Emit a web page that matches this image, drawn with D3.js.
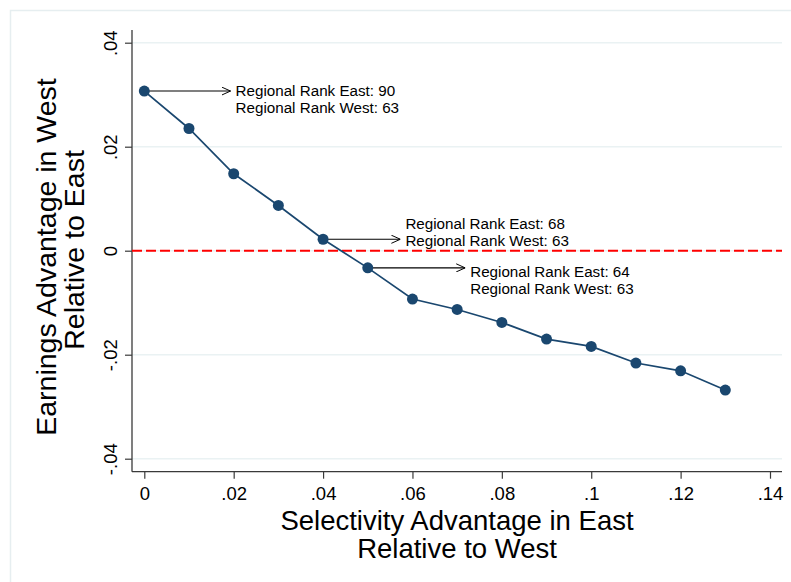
<!DOCTYPE html>
<html>
<head>
<meta charset="utf-8">
<script src="https://cdn.jsdelivr.net/npm/d3@7"></script>
<style>
  html, body { margin: 0; padding: 0; background: #fff; overflow: hidden; }
  svg { display: block; font-family: "Liberation Sans", Arial, Helvetica, sans-serif; }
</style>
</head>
<body>
<div id="chart"></div>
<script>
// selectivity advantage (x) and earnings advantage (y)
var selectivity = [0, 0.01, 0.02, 0.03, 0.04, 0.05, 0.06, 0.07, 0.08, 0.09, 0.10, 0.11, 0.12, 0.13];
var earnings = [0.0307, 0.0235, 0.0148, 0.0087, 0.0022, -0.0033, -0.0093, -0.0113, -0.0138, -0.0170, -0.0184, -0.0216, -0.0231, -0.0268];

var xTicks = [0, 0.02, 0.04, 0.06, 0.08, 0.10, 0.12, 0.14];
var xTickLabels = ['0', '.02', '.04', '.06', '.08', '.1', '.12', '.14'];
var yTicks = [-0.04, -0.02, 0, 0.02, 0.04];
var yTickLabels = ['-.04', '-.02', '0', '.02', '.04'];

// annotations: which point the arrow starts from, where the arrow ends, where the label sits
var notePoint = [0, 4, 5];
var noteArrowEnd = [0.0193, 0.0573, 0.0718];
var noteLabelY = [0.0297, 0.0042, -0.0051];
var noteEast = [90, 68, 64];
var noteWest = [63, 63, 63];

var xTitle = ['Selectivity Advantage in East', 'Relative to West'];
var yTitle = ['Earnings Advantage in West', 'Relative to East'];

var width = 791, height = 582;
var plot = { left: 132, right: 782, top: 30, bottom: 471.7 };
var navy = '#1a476f';

var svg = d3.select('#chart').append('svg')
    .attr('width', width)
    .attr('height', height);

svg.append('defs').append('marker')
    .attr('id', 'arrowhead')
    .attr('viewBox', '0 0 10 10')
    .attr('refX', 10)
    .attr('refY', 5)
    .attr('markerWidth', 9)
    .attr('markerHeight', 9)
    .attr('markerUnits', 'userSpaceOnUse')
    .attr('orient', 'auto')
    .append('path')
    .attr('d', 'M0,0.5 L10,5 L0,9.5')
    .attr('fill', 'none')
    .attr('stroke', '#000')
    .attr('stroke-width', 1.1);

// graph region outline (runs off the right and bottom edges)
svg.append('rect')
    .attr('x', 10.5)
    .attr('y', 10.5)
    .attr('width', 820)
    .attr('height', 620)
    .attr('fill', '#fff')
    .attr('stroke', '#e6eef0')
    .attr('stroke-width', 1.5);

var x = d3.scaleLinear().domain([0, 0.14]).range([144.3, 770]);
var y = d3.scaleLinear().domain([-0.04, 0.04]).range([458.7, 42.7]);

// grid lines
svg.append('g').selectAll('line')
    .data(yTicks)
    .enter().append('line')
    .attr('x1', plot.left)
    .attr('x2', plot.right)
    .attr('y1', function (d) { return y(d); })
    .attr('y2', function (d) { return y(d); })
    .attr('stroke', '#eaf2f3')
    .attr('stroke-width', 1.6);

// x axis
var xAxis = d3.axisBottom(x)
    .tickValues(xTicks)
    .tickSize(7)
    .tickPadding(8)
    .tickFormat(function (d, i) { return xTickLabels[i]; });
var gx = svg.append('g')
    .attr('transform', 'translate(0,' + plot.bottom + ')')
    .call(xAxis);
gx.select('.domain').remove();
gx.append('line')
    .attr('x1', plot.left)
    .attr('x2', plot.right)
    .attr('stroke', '#3a3a3a')
    .attr('stroke-width', 1.3);
gx.selectAll('.tick line').attr('stroke', '#3a3a3a').attr('stroke-width', 1.2);
gx.selectAll('.tick text')
    .attr('fill', '#000')
    .style('font-size', '18.5px')
    .style('font-family', '"Liberation Sans", Arial, sans-serif');

// y axis, labels turned like the reference
var yAxis = d3.axisLeft(y)
    .tickValues(yTicks)
    .tickSize(7)
    .tickFormat(function (d, i) { return yTickLabels[i]; });
var gy = svg.append('g')
    .attr('transform', 'translate(' + plot.left + ',0)')
    .call(yAxis);
gy.select('.domain').remove();
gy.append('line')
    .attr('y1', plot.top)
    .attr('y2', plot.bottom)
    .attr('stroke', '#3a3a3a')
    .attr('stroke-width', 1.3);
gy.selectAll('.tick line').attr('stroke', '#3a3a3a').attr('stroke-width', 1.2);
gy.selectAll('.tick text')
    .attr('x', null)
    .attr('dy', null)
    .attr('fill', '#000')
    .attr('text-anchor', 'middle')
    .attr('transform', 'translate(-15,0) rotate(-90)')
    .style('font-size', '18.5px')
    .style('font-family', '"Liberation Sans", Arial, sans-serif');

// zero reference line
svg.append('line')
    .attr('x1', plot.left)
    .attr('x2', plot.right)
    .attr('y1', y(0))
    .attr('y2', y(0))
    .attr('stroke', '#ff0000')
    .attr('stroke-width', 2)
    .attr('stroke-dasharray', '10,4');

var points = selectivity.map(function (s, i) { return { x: s, y: earnings[i] }; });

var line = d3.line()
    .x(function (d) { return x(d.x); })
    .y(function (d) { return y(d.y); });

svg.append('path')
    .datum(points)
    .attr('d', line)
    .attr('fill', 'none')
    .attr('stroke', navy)
    .attr('stroke-width', 1.7);

// arrows + labels
var notes = notePoint.map(function (p, i) {
    return { from: points[p], to: noteArrowEnd[i], labelY: noteLabelY[i], east: noteEast[i], west: noteWest[i] };
});

svg.append('g').selectAll('line')
    .data(notes)
    .enter().append('line')
    .attr('x1', function (d) { return x(d.from.x); })
    .attr('y1', function (d) { return y(d.from.y); })
    .attr('x2', function (d) { return x(d.to); })
    .attr('y2', function (d) { return y(d.from.y); })
    .attr('stroke', '#000')
    .attr('stroke-width', 1.1)
    .attr('marker-end', 'url(#arrowhead)');

var label = svg.append('g').selectAll('text')
    .data(notes)
    .enter().append('text')
    .attr('x', function (d) { return x(d.to) + 5; })
    .attr('y', function (d) { return y(d.labelY); })
    .style('font-size', '15.2px')
    .attr('fill', '#000');
label.append('tspan')
    .text(function (d) { return 'Regional Rank East: ' + d.east; });
label.append('tspan')
    .attr('x', function (d) { return x(d.to) + 5; })
    .attr('dy', 17)
    .text(function (d) { return 'Regional Rank West: ' + d.west; });

svg.append('g').selectAll('circle')
    .data(points)
    .enter().append('circle')
    .attr('cx', function (d) { return x(d.x); })
    .attr('cy', function (d) { return y(d.y); })
    .attr('r', 5.5)
    .attr('fill', navy);

// axis titles
var midX = (plot.left + plot.right) / 2;
svg.append('g').selectAll('text')
    .data(xTitle)
    .enter().append('text')
    .attr('x', midX)
    .attr('y', function (d, i) { return 529.5 + i * 28; })
    .attr('text-anchor', 'middle')
    .style('font-size', '27.5px')
    .text(function (d) { return d; });

svg.append('g').selectAll('text')
    .data(yTitle)
    .enter().append('text')
    .attr('transform', function (d, i) { return 'translate(' + (56 + i * 27.5) + ',' + (257 - i * 7) + ') rotate(-90)'; })
    .attr('text-anchor', 'middle')
    .style('font-size', '28.5px')
    .text(function (d) { return d; });
</script>
</body>
</html>
